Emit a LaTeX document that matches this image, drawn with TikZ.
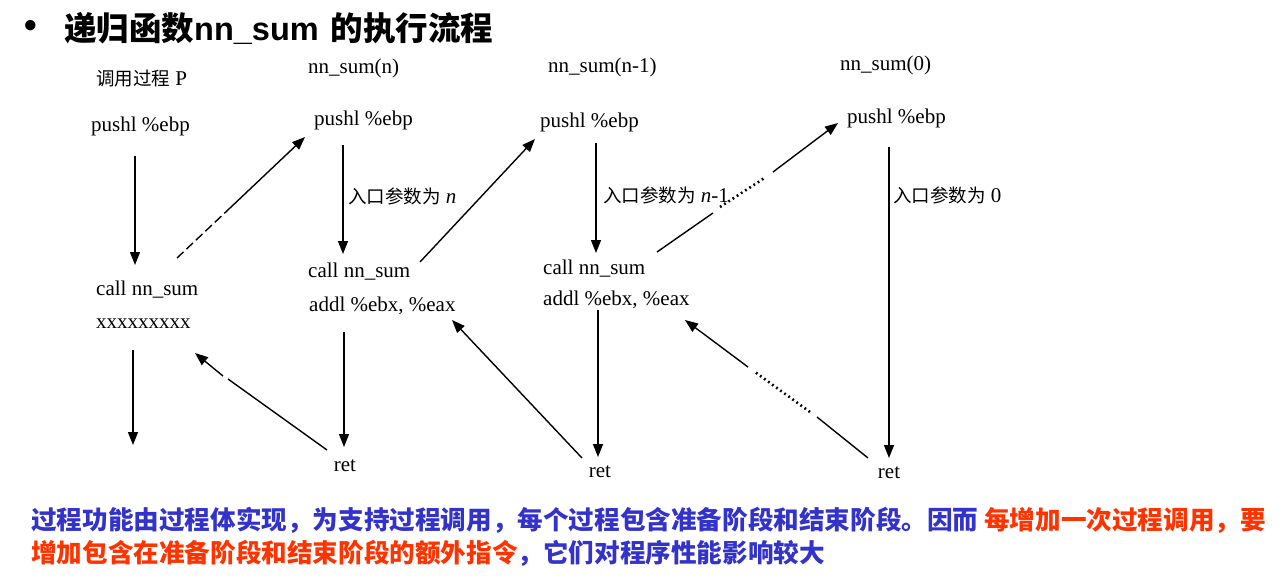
\documentclass[tikz,border=0pt]{standalone}
\usepackage{fontspec}
\setmainfont{Liberation Serif}
\setsansfont{Liberation Sans}
\newfontfamily\cjk{Noto Sans CJK SC}
\usetikzlibrary{arrows.meta}
\definecolor{tblue}{RGB}{51,51,204}
\definecolor{tred}{RGB}{255,51,0}
\newcommand{\cjkl}{\cjk\fontsize{18.5}{18.5}\selectfont}
\begin{document}
\begin{tikzpicture}[x=1pt,y=-1pt,
  code/.style={anchor=west,inner sep=0pt,font=\fontsize{21}{21}\selectfont,text height=14.5pt,text depth=4.5pt},
  arr/.style={line width=1.4pt,-{Triangle[length=13pt,width=10pt]}},
  seg/.style={line width=1.4pt},
  dsh/.style={line width=1.4pt,dash pattern=on 9pt off 4pt},
  dots/.style={line width=2.6pt,dash pattern=on 1.8pt off 3.2pt},
  big/.style={anchor=west,inner sep=0pt,font=\cjk\bfseries\fontsize{25.6}{25.6}\selectfont}
]
\useasboundingbox (0,0) rectangle (1285,579);
% title
\node[inner sep=0pt,font=\sffamily\bfseries\fontsize{36}{36}\selectfont] (bul) at (31,29) {•};
\node[anchor=west,inner sep=0pt,font=\fontsize{32.5}{32.5}\selectfont\bfseries] (title) at (64,28)
  {{\cjk 递归函数}{\sffamily nn\_sum}\hspace{12pt}{\cjk 的执行流程}};
% headers
\node[code] (hP) at (96,80) {{\cjkl 调用过程} P};
\node[code] (hN) at (308,68) {nn\_sum(n)};
\node[code] (hN1) at (548,67) {nn\_sum(n-1)};
\node[code] (h0) at (840,65) {nn\_sum(0)};
% pushl
\node[code] (pP) at (91,126) {pushl \%ebp};
\node[code] (pN) at (314,120) {pushl \%ebp};
\node[code] (pN1) at (540,122) {pushl \%ebp};
\node[code] (p0) at (847,118) {pushl \%ebp};
% calls
\node[code] (cP) at (96,290) {call nn\_sum};
\node[code] (xP) at (96,323) {xxxxxxxxx};
\node[code] (cN) at (308,272) {call nn\_sum};
\node[code] (aN) at (309,306) {addl \%ebx, \%eax};
\node[code] (cN1) at (543,269) {call nn\_sum};
\node[code] (aN1) at (543,300) {addl \%ebx, \%eax};
% rets
\node[code,anchor=center] (rN) at (345,466) {ret};
\node[code,anchor=center] (rN1) at (600,472) {ret};
\node[code,anchor=center] (r0) at (889,473) {ret};
% labels
\node[code] (lN) at (348,198) {{\cjkl 入口参数为} \textit{n}};
\node[code] (lN1) at (603,197) {{\cjkl 入口参数为} \textit{n}-1};
\node[code] (l0) at (893,197) {{\cjkl 入口参数为} 0};
% coordinates
\coordinate (vP1) at (135,156); \coordinate (vP2) at (135,265);
\coordinate (dP1) at (177,258); \coordinate (dP2) at (230,208); \coordinate (dP3) at (305,137);
\coordinate (vN1) at (343,145); \coordinate (vN2) at (343,254);
\coordinate (gN1) at (420,262); \coordinate (gN2) at (535,139);
\coordinate (vM1) at (596,143); \coordinate (vM2) at (596,253);
\coordinate (gM1) at (657,252); \coordinate (gM2) at (713,213);
\coordinate (gM3) at (720,207); \coordinate (gM4) at (766,177);
\coordinate (gM5) at (773,172); \coordinate (gM6) at (838,123);
\coordinate (v01) at (889,147); \coordinate (v02) at (889,458);
\coordinate (bP1) at (133,350); \coordinate (bP2) at (133,445);
\coordinate (bN1) at (344,332); \coordinate (bN2) at (344,447);
\coordinate (bM1) at (598,310); \coordinate (bM2) at (598,457);
\coordinate (rr1) at (327,450); \coordinate (rr2) at (228,379);
\coordinate (rr3) at (223,376); \coordinate (rr4) at (195,353);
\coordinate (rs1) at (582,458); \coordinate (rs2) at (452,320);
\coordinate (rt1) at (868,458); \coordinate (rt2) at (817,417);
\coordinate (rt3) at (810,412); \coordinate (rt4) at (755,372);
\coordinate (rt5) at (748,367); \coordinate (rt6) at (685,320);
% arrows
\draw[arr] (vP1) -- (vP2);
\draw[dsh] (dP1) -- (dP2);
\draw[arr] (dP2) -- (dP3);
\draw[arr] (vN1) -- (vN2);
\draw[arr] (gN1) -- (gN2);
\draw[arr] (vM1) -- (vM2);
\draw[seg] (gM1) -- (gM2);
\draw[dots] (gM3) -- (gM4);
\draw[arr] (gM5) -- (gM6);
\draw[arr] (v01) -- (v02);
\draw[arr] (bP1) -- (bP2);
\draw[arr] (bN1) -- (bN2);
\draw[arr] (bM1) -- (bM2);
\draw[seg] (rr1) -- (rr2);
\draw[arr] (rr3) -- (rr4);
\draw[arr] (rs1) -- (rs2);
\draw[seg] (rt1) -- (rt2);
\draw[dots] (rt3) -- (rt4);
\draw[arr] (rt5) -- (rt6);
% bottom text
\node[big] (t1) at (31,520) {\color{tblue}过程功能由过程体实现，为支持过程调用，每个过程包含准备阶段和结束阶段。因而 \color{tred}每增加一次过程调用，要};
\node[big] (t2) at (31,553) {\color{tred}增加包含在准备阶段和结束阶段的额外指令\color{tblue}，它们对程序性能影响较大};
\end{tikzpicture}
\end{document}
